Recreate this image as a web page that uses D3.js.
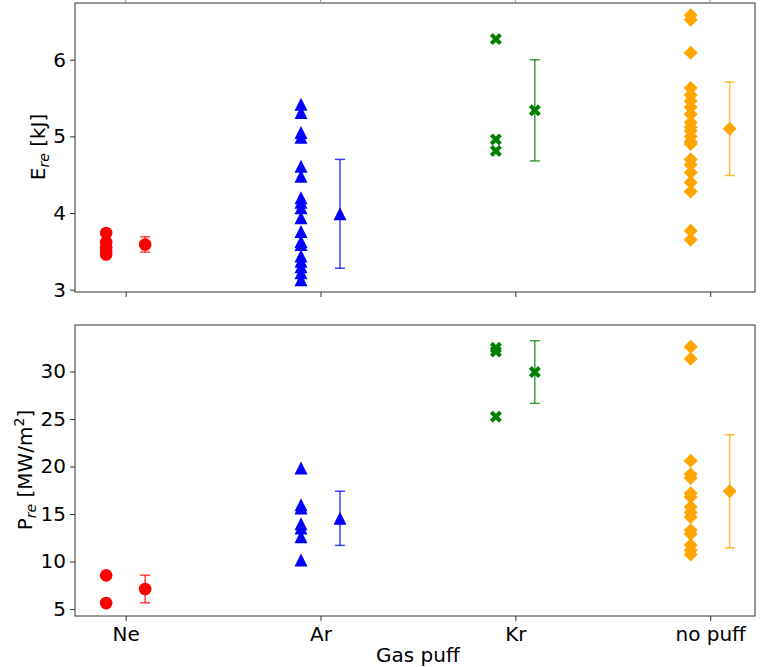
<!DOCTYPE html>
<html>
<head>
<meta charset="utf-8">
<script src="https://cdn.jsdelivr.net/npm/d3@7"></script>
<style>
  body { margin: 0; background: #fff; }
  svg { display: block; font-family: "DejaVu Sans", sans-serif; }
</style>
</head>
<body>
<svg id="chart" width="763" height="667"></svg>
<script>
// categories on the x axis
const gases = ['Ne', 'Ar', 'Kr', 'no puff'];
const colors = ['#ff0000', '#0000ff', '#008000', '#ffa500'];
const markers = ['circle', 'triangle', 'x', 'diamond'];

// E_re [kJ], individual shots
const ereNe = [3.74, 3.62, 3.55, 3.50, 3.46];
const ereAr = [5.42, 5.31, 5.05, 4.99, 4.61, 4.48, 4.20, 4.14, 4.07, 3.94, 3.76, 3.63, 3.59, 3.44, 3.37, 3.30, 3.22, 3.13];
const ereKr = [6.27, 4.96, 4.81];
const ereNoPuff = [6.58, 6.52, 6.09, 5.63, 5.54, 5.46, 5.38, 5.29, 5.18, 5.12, 5.07, 5.00, 4.93, 4.90, 4.70, 4.63, 4.53, 4.40, 4.28, 3.77, 3.65];
// E_re mean and spread
const ereMean = [3.59, 3.99, 5.34, 5.10];
const ereErr = [0.10, 0.71, 0.66, 0.61];

// P_re [MW/m2], individual shots
const preNe = [8.55, 5.63];
const preAr = [19.85, 15.97, 15.65, 13.97, 13.54, 12.6, 10.17];
const preKr = [32.5, 32.1, 25.25];
const preNoPuff = [32.6, 31.35, 20.6, 19.2, 18.8, 17.2, 16.8, 15.75, 15.2, 14.7, 13.3, 12.9, 11.75, 11.2, 10.75];
// P_re mean and spread
const preMean = [7.11, 14.55, 29.95, 17.4];
const preErr = [1.45, 2.85, 3.30, 5.95];

const ereSets = [ereNe, ereAr, ereKr, ereNoPuff];
const preSets = [preNe, preAr, preKr, preNoPuff];

const svg = d3.select('#chart');
const left = 75, right = 755;
const shift = 0.1;
const fontSize = '20px';

const x = d3.scaleLinear().domain([-0.26, 3.23]).range([left, right]);

function markerPath(kind) {
    if (kind === 'circle') return d3.symbol(d3.symbolCircle, Math.PI * 6.3 * 6.3)();
    if (kind === 'triangle') {
        const h = 6.5;
        return `M0,${-h}L${h},${h}L${-h},${h}Z`;
    }
    if (kind === 'diamond') {
        const h = 7;
        return `M0,${-h}L${h},0L0,${h}L${-h},0Z`;
    }
    // filled X
    const a = 6, t = 2.9;
    return `M${-a},${-a + t}L${-a + t},${-a}L0,${-t}L${a - t},${-a}L${a},${-a + t}L${t},0`
         + `L${a},${a - t}L${a - t},${a}L0,${t}L${-a + t},${a}L${-a},${a - t}L${-t},0Z`;
}

function drawPanel(top, bottom, domain, ticks, sets, means, errs, showXLabels) {
    const y = d3.scaleLinear().domain(domain).range([bottom, top]);
    const g = svg.append('g');

    // frame
    g.append('rect')
        .attr('x', left).attr('y', top)
        .attr('width', right - left).attr('height', bottom - top)
        .attr('fill', 'none').attr('stroke', '#333').attr('stroke-width', 1);

    const yAxis = g.append('g')
        .attr('transform', `translate(${left},0)`)
        .call(d3.axisLeft(y).tickValues(ticks).tickSize(5).tickPadding(4).tickFormat(d3.format('d')));
    yAxis.select('.domain').remove();

    const xAxis = g.append('g')
        .attr('transform', `translate(0,${bottom})`)
        .call(d3.axisBottom(x).tickValues(d3.range(gases.length)).tickSize(5).tickPadding(6)
            .tickFormat(i => showXLabels ? gases[i] : ''));
    xAxis.select('.domain').remove();

    [yAxis, xAxis].forEach(ax => {
        ax.selectAll('line').attr('stroke', '#333');
        ax.selectAll('text').attr('fill', '#000').style('font-size', fontSize)
            .style('font-family', '"DejaVu Sans", sans-serif');
    });

    sets.forEach((vals, i) => {
        const path = markerPath(markers[i]);
        g.selectAll(null)
            .data(vals).enter()
            .append('path')
            .attr('d', path)
            .attr('transform', d => `translate(${x(i - shift)},${y(d)})`)
            .attr('fill', colors[i]);

        // error bar at the mean
        const cx = x(i + shift);
        const lo = y(means[i] - errs[i]), hi = y(means[i] + errs[i]);
        const eb = g.append('g').attr('stroke', colors[i]).attr('stroke-opacity', 0.75).attr('stroke-width', 1.5);
        eb.append('line').attr('x1', cx).attr('x2', cx).attr('y1', lo).attr('y2', hi);
        eb.append('line').attr('x1', cx - 5).attr('x2', cx + 5).attr('y1', lo).attr('y2', lo);
        eb.append('line').attr('x1', cx - 5).attr('x2', cx + 5).attr('y1', hi).attr('y2', hi);
        g.append('path')
            .attr('d', path)
            .attr('transform', `translate(${cx},${y(means[i])})`)
            .attr('fill', colors[i]);
    });
    return g;
}

drawPanel(3, 292, [2.97, 6.74], [3, 4, 5, 6], ereSets, ereMean, ereErr, false);
drawPanel(325, 616, [4.27, 34.9], [5, 10, 15, 20, 25, 30], preSets, preMean, preErr, true);

// ticks of the figure part above, cut off by the frame edge
svg.selectAll(null)
    .data(d3.range(gases.length)).enter()
    .append('line')
    .attr('x1', d => x(d)).attr('x2', d => x(d))
    .attr('y1', 0).attr('y2', 3)
    .attr('stroke', '#999');

// axis labels
const e = svg.append('text')
    .attr('transform', 'translate(45,147) rotate(-90)')
    .attr('text-anchor', 'middle')
    .style('font-size', fontSize);
e.append('tspan').text('E');
e.append('tspan').text('re').attr('dy', 4).style('font-size', '14px').style('font-style', 'italic');
e.append('tspan').text(' [kJ]').attr('dy', -4);

const p = svg.append('text')
    .attr('transform', 'translate(32,470) rotate(-90)')
    .attr('text-anchor', 'middle')
    .style('font-size', fontSize);
p.append('tspan').text('P');
p.append('tspan').text('re').attr('dy', 4).style('font-size', '14px').style('font-style', 'italic');
p.append('tspan').text(' [MW/m').attr('dy', -4);
p.append('tspan').text('2').attr('dy', -8).style('font-size', '14px');
p.append('tspan').text(']').attr('dy', 8);

svg.append('text')
    .attr('x', x(1.5)).attr('y', 662)
    .attr('text-anchor', 'middle')
    .style('font-size', fontSize)
    .text('Gas puff');
</script>
</body>
</html>
